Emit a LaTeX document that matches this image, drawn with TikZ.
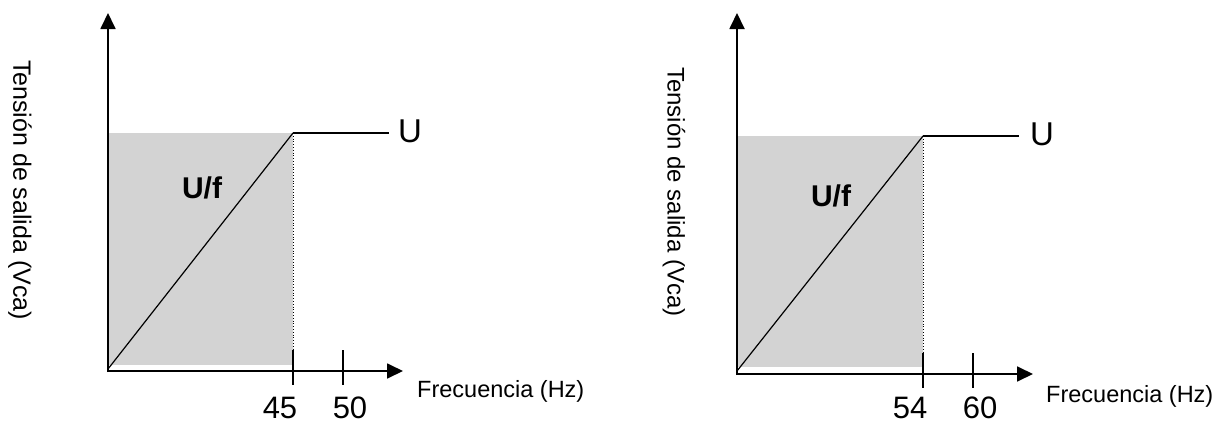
\documentclass[tikz,border=0pt]{standalone}
\usepackage{fontspec}
\setmainfont{Liberation Sans}
\usetikzlibrary{arrows.meta}
\definecolor{areagray}{RGB}{211,211,211}
\begin{document}
\begin{tikzpicture}[x=1pt,y=-1pt,
  axis/.style={line width=1.8pt,-{Triangle[length=16pt,width=15pt]}},
  curve/.style={line width=1.5pt},
  diag/.style={line width=1.2pt},
  tick/.style={line width=1.5pt},
  guide/.style={line width=0.8pt,dotted},
  area/.style={fill=areagray,draw=none},
  lbl/.style={inner sep=0pt,font=\fontsize{23.5}{26}\selectfont},
  num/.style={inner sep=0pt,font=\fontsize{31}{34}\selectfont},
  ulbl/.style={inner sep=0pt,font=\fontsize{33}{36}\selectfont},
  uf/.style={inner sep=0pt,font=\fontsize{30}{32}\selectfont\bfseries},
  vlbl/.style={inner sep=0pt,rotate=-90}]
\useasboundingbox (0,0) rectangle (1223,423);
% ---------- left chart ----------
\coordinate (ytop1) at (108,13);
\coordinate (xend1) at (403,371);
\coordinate (k1) at (293,133);
\coordinate (u1end) at (389,133);
\coordinate (ta1) at (293,350);
\coordinate (tb1) at (293,385);
\coordinate (tc1) at (343,350);
\coordinate (td1) at (343,385);
\path[area] (108,133) rectangle (293,365);
\draw[guide] (k1) -- (ta1);
\draw[diag] (108,369) -- (k1);
\draw[curve] (k1) -- (u1end);
\draw[axis] (108,372) -- (ytop1);
\draw[axis] (107,371) -- (xend1);
\draw[tick] (ta1) -- (tb1);
\draw[tick] (tc1) -- (td1);
\node[ulbl,anchor=west] (U1) at (398,131) {U};
\node[uf] (UF1) at (202,188) {U/f};
\node[num,anchor=base] (n45) at (280,418) {45};
\node[num,anchor=base] (n50) at (350,418) {50};
\node[lbl,anchor=base west] (fr1) at (417,397) {Frecuencia (Hz)};
\node[vlbl,font=\fontsize{25}{28}\selectfont] (ten1) at (20,190) {Tensión de salida (Vca)};
% ---------- right chart ----------
\coordinate (ytop2) at (737,13);
\coordinate (xend2) at (1033,374);
\coordinate (k2) at (923,136);
\coordinate (u2end) at (1019,136);
\coordinate (ta2) at (923,353);
\coordinate (tb2) at (923,388);
\coordinate (tc2) at (973,353);
\coordinate (td2) at (973,388);
\path[area] (737,136) rectangle (923,367);
\draw[guide] (k2) -- (ta2);
\draw[diag] (737,371) -- (k2);
\draw[curve] (k2) -- (u2end);
\draw[axis] (737,375) -- (ytop2);
\draw[axis] (736,374) -- (xend2);
\draw[tick] (ta2) -- (tb2);
\draw[tick] (tc2) -- (td2);
\node[ulbl,anchor=west] (U2) at (1030,134) {U};
\node[uf] (UF2) at (831,196) {U/f};
\node[num,anchor=base] (n54) at (910,418.5) {54};
\node[num,anchor=base] (n60) at (980,418.5) {60};
\node[lbl,anchor=base west] (fr2) at (1046,402) {Frecuencia (Hz)};
\node[vlbl,font=\fontsize{24}{27}\selectfont] (ten2) at (674,192) {Tensión de salida (Vca)};
\end{tikzpicture}
\end{document}
